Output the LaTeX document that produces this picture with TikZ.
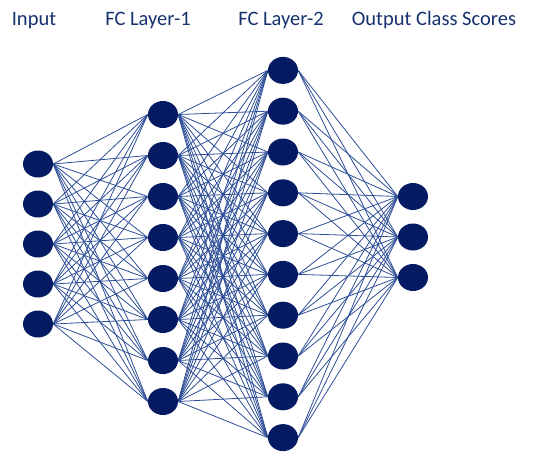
\documentclass[tikz,border=0pt]{standalone}
\usepackage{fontspec}
\setmainfont{Carlito}
\usetikzlibrary{shapes.geometric, backgrounds}

\definecolor{neuron}{RGB}{4,26,98}
\definecolor{wire}{RGB}{45,78,150}
\definecolor{heading}{RGB}{22,50,110}

\begin{document}
\begin{tikzpicture}[
    x=1pt, y=-1pt,
    % Define neuron and link styles
    neuron/.style={
        ellipse,
        fill=neuron,
        draw=none,
        inner sep=0pt,
        minimum width=30pt,
        minimum height=27pt
    },
    link/.style={
        draw=wire,
        line width=0.8pt
    },
    title/.style={
        anchor=base,
        text=heading,
        font=\fontsize{20.5}{24}\selectfont
    }
]
    \useasboundingbox (0,0) rectangle (550,463);

    % =================================================================
    % --- Layer titles ---
    % =================================================================
    \node[title] (t_in)  at (34, 26)  {Input};
    \node[title] (t_fc1) at (148, 26) {FC Layer-1};
    \node[title] (t_fc2) at (281, 26) {FC Layer-2};
    \node[title] (t_out) at (434, 26) {Output Class Scores};

    % =================================================================
    % --- Neurons ---
    % =================================================================
    \foreach \i in {1,...,5} {
        \node[neuron] (in\i) at (38, {244 + 40*(\i-3)}) {};
    }
    \foreach \i in {1,...,8} {
        \node[neuron] (fca\i) at (163, {258 + 41*(\i-4.5)}) {};
    }
    \foreach \i in {1,...,10} {
        \node[neuron] (fcb\i) at (283, {254 + 40.8*(\i-5.5)}) {};
    }
    \foreach \i in {1,...,3} {
        \node[neuron] (out\i) at (413, {237 + 40.5*(\i-2)}) {};
    }

    % =================================================================
    % --- Fully connected links ---
    % =================================================================
    \begin{scope}[on background layer]
        \foreach \i in {1,...,5}
            \foreach \j in {1,...,8}
                \draw[link] (in\i.east) -- (fca\j.west);
        \foreach \i in {1,...,8}
            \foreach \j in {1,...,10}
                \draw[link] (fca\i.east) -- (fcb\j.west);
        \foreach \i in {1,...,10}
            \foreach \j in {1,...,3}
                \draw[link] (fcb\i.east) -- (out\j.west);
    \end{scope}
\end{tikzpicture}
\end{document}
